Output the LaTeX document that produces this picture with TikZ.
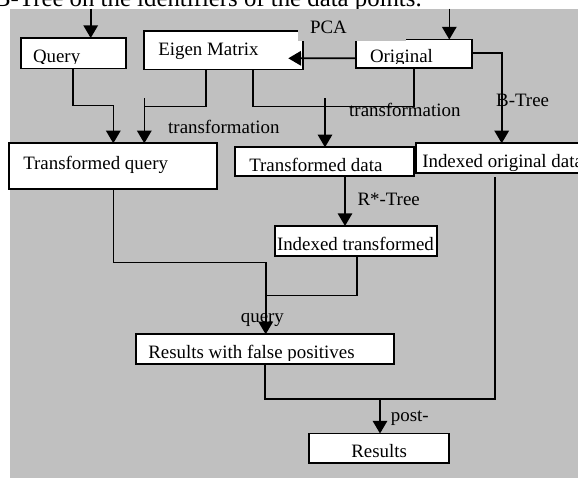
\documentclass[tikz,border=0pt]{standalone}
\usepackage{fontspec}
\setmainfont{Liberation Serif}
\usetikzlibrary{arrows.meta, calc}
\definecolor{bggrey}{RGB}{192,192,192}
\newcommand{\diagfont}{\fontsize{18.9}{22}\selectfont}

\begin{document}
\begin{tikzpicture}[
  x=1pt, y=1pt,
  box/.style={draw, line width=1.8pt, fill=white, anchor=north west, inner sep=0pt, outer sep=0pt},
  patch/.style={fill=bggrey, anchor=north west, inner sep=0pt, outer sep=0pt},
  boxtext/.style n args={4}{path picture={
      \clip ([yshift=#3]path picture bounding box.south west) rectangle (path picture bounding box.north east);
      \node[draw=none, fill=none, inner sep=0pt, minimum width=0pt, minimum height=0pt, anchor=base west, font=\diagfont]
        at ([xshift=#1, yshift=#2]path picture bounding box.south west) {#4};}},
  lbl/.style={anchor=base west, inner sep=0pt, font=\diagfont},
  conn/.style={line width=1.6pt},
  arrow/.style={conn, -{Triangle[length=12.7pt, width=14.5pt]}}
]
  \useasboundingbox (0,0) rectangle (578,-477);
  \clip (0,0) rectangle (578,-477);
  % caption line, cut by the crop
  \node[anchor=base west, inner sep=0pt, font=\fontsize{24.8}{28}\selectfont] (caption) at (-6,-6.5) {B-Tree on the identifiers of the data points.};
  \fill[bggrey] (10,-8.5) rectangle (590,-490);

  % boxes
  \node[box, minimum width=105pt, minimum height=30.5pt, boxtext={12.3pt}{6pt}{5pt}{Query}] (query) at (20.7,-38) {};
  \node[box, minimum width=158.7pt, minimum height=38.5pt, boxtext={14.3pt}{14.5pt}{0pt}{Eigen Matrix}] (eigen) at (144,-31) {};
  \node[box, minimum width=115.7pt, minimum height=28.5pt, boxtext={14pt}{5.5pt}{4.7pt}{Original}] (orig) at (356,-39.5) {};
  \node[box, minimum width=207.4pt, minimum height=46pt, boxtext={14pt}{20pt}{0pt}{Transformed query}] (tq) at (9.3,-143.3) {};
  \node[box, minimum width=178.7pt, minimum height=28.7pt, boxtext={14pt}{5pt}{4.5pt}{Transformed data}] (td) at (235.3,-147.3) {};
  \node[box, minimum width=175pt, minimum height=29.4pt, boxtext={6.6pt}{5.2pt}{1pt}{Indexed original data}] (iod) at (415.7,-143.3) {};
  \node[box, minimum width=162.3pt, minimum height=30pt, boxtext={2pt}{6pt}{0pt}{Indexed transformed}] (it) at (275,-226) {};
  \node[box, minimum width=258pt, minimum height=30pt, boxtext={12.3pt}{6pt}{4pt}{Results with false positives}] (rfp) at (136,-334.3) {};
  \node[box, minimum width=139.7pt, minimum height=29.8pt, boxtext={42pt}{6pt}{0pt}{Results}] (res) at (309.3,-433.5) {};
  \node[patch, minimum width=108pt, minimum height=22.5pt, boxtext={12pt}{7.5pt}{0pt}{PCA}] (pca) at (298,-18) {};

  % inputs from above
  \coordinate (qin) at (90.7,-8.5);
  \coordinate (oin) at (449.3,-8.5);
  \draw[arrow] (qin) -- (qin |- query.north);
  \draw[arrow] (oin) -- (oin |- orig.north);

  % PCA
  \coordinate (eigtip) at (288.3,-58.3);
  \draw[arrow] ([yshift=-4.5pt]orig.west) -- (eigtip);

  % B-Tree on the original data
  \node[lbl] (btree) at (496,-106) {B-Tree};
  \draw[arrow] ([yshift=1pt]orig.east) -| ([xshift=86pt]iod.north west);

  % transformation of the query
  \coordinate (jq) at (113.3,-105.5);
  \coordinate (je) at (144.3,-106.5);
  \draw[arrow] ([xshift=52pt]query.south west) |- (jq) -- (jq |- tq.north);
  \draw[conn] ([xshift=62pt]eigen.south west) |- (je);
  \draw[arrow] ([yshift=8.5pt]je) -- (je |- tq.north);
  \node[lbl] (tf1) at (168,-133) {transformation};

  % transformation of the data
  \coordinate (jt) at (325,-106.5);
  \draw[conn] ([xshift=108.7pt]eigen.south west) |- (jt) -| ([xshift=58pt]orig.south west);
  \draw[arrow] ([yshift=8.5pt]jt) -- (jt |- td.north);
  \node[lbl] (tf2) at (349,-116.7) {transformation};

  % R*-Tree
  \coordinate (rt) at ([xshift=109.7pt]td.south west);
  \draw[arrow] (rt) -- (rt |- it.north);
  \node[lbl] (rstar) at (357.3,-205) {R*-Tree};

  % query
  \coordinate (jr) at (265.7,-295.5);
  \coordinate (jq2) at (265.7,-262.3);
  \draw[conn] ([xshift=81.7pt]it.south west) |- (jr);
  \node[lbl] (qlbl) at (240.7,-322.7) {query};
  \draw[arrow] ([xshift=104pt]tq.south west) |- (jq2) -- (jq2 |- rfp.north);

  % post-processing
  \coordinate (jp) at (380,-399);
  \draw[conn] ([xshift=129pt]rfp.south west) |- (jp) -| ([xshift=79.3pt, yshift=-4pt]iod.south west);
  \node[lbl] (post) at (390.7,-421.7) {post-};
  \draw[arrow] (jp) -- (jp |- res.north);
\end{tikzpicture}
\end{document}
